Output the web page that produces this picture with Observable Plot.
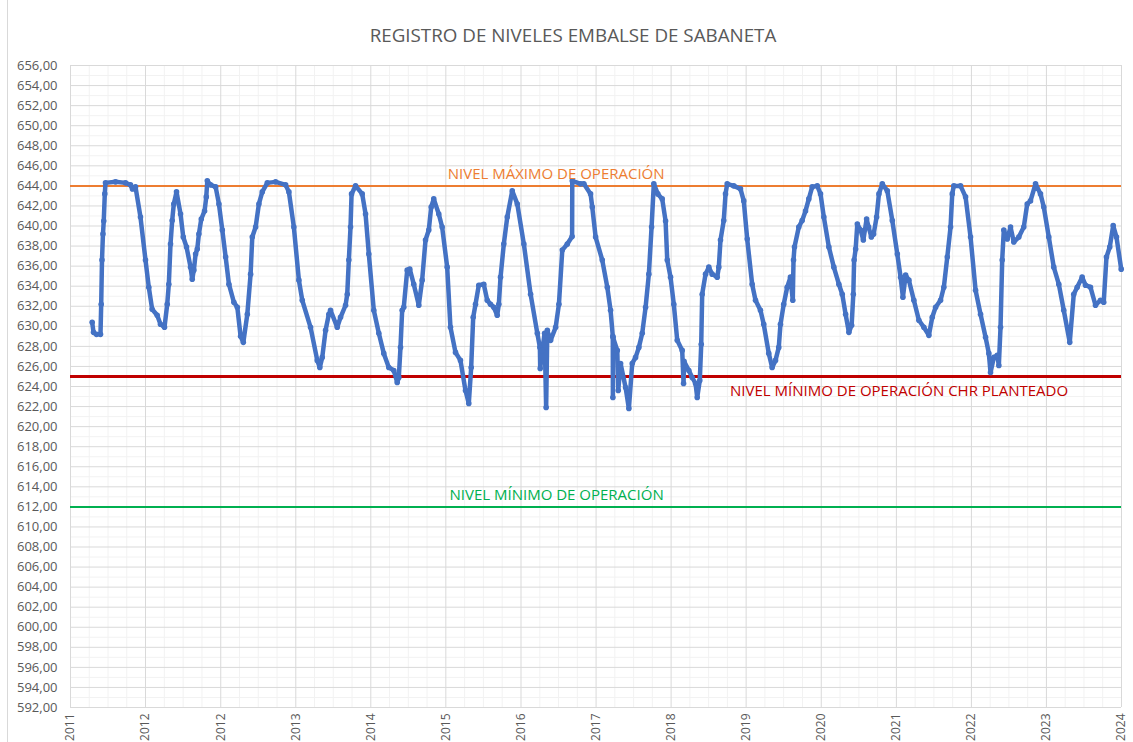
<!DOCTYPE html>
<html>
<head>
<meta charset="utf-8">
<script src="https://cdn.jsdelivr.net/npm/d3@7"></script>
<script src="https://cdn.jsdelivr.net/npm/@observablehq/plot@0.6"></script>
<style>
  body { margin: 0; background: #fff; }
  #chart { position: relative; width: 1133px; height: 742px; overflow: hidden; font-family: "Open Sans", sans-serif; background: #fff; }
  #title { height: 26px; padding-top: 24px; padding-left: 13px; line-height: 22px; text-align: center; font-size: 18.8px; color: #595959; }
  #border { position: absolute; left: 7px; top: 0; bottom: 0; width: 1px; background: #D9D9D9; }
</style>
</head>
<body>
<div id="chart">
  <div id="border"></div>
  <div id="title">REGISTRO DE NIVELES EMBALSE DE SABANETA</div>
</div>
<script>
// ---- Data ----
// time as decimal years
const dates = [
  2011.371, 2011.388, 2011.425, 2011.475, 2011.484, 2011.494, 2011.506, 2011.516, 2011.529, 2011.538,
  2011.663, 2011.788, 2011.850, 2011.875, 2011.913, 2011.975, 2012.038, 2012.079, 2012.121, 2012.184,
  2012.225, 2012.275, 2012.309, 2012.329, 2012.350, 2012.371, 2012.391, 2012.425, 2012.475, 2012.509,
  2012.550, 2012.600, 2012.621, 2012.641, 2012.663, 2012.684, 2012.704, 2012.734, 2012.775, 2012.796,
  2012.809, 2012.850, 2012.913, 2012.954, 2012.996, 2013.038, 2013.079, 2013.141, 2013.184, 2013.225,
  2013.259, 2013.309, 2013.350, 2013.371, 2013.413, 2013.454, 2013.496, 2013.559, 2013.663, 2013.788,
  2013.829, 2013.891, 2013.954, 2013.996, 2014.100, 2014.184, 2014.216, 2014.246, 2014.288, 2014.329,
  2014.350, 2014.434, 2014.475, 2014.538, 2014.559, 2014.579, 2014.600, 2014.613, 2014.663, 2014.746,
  2014.788, 2014.829, 2014.891, 2014.954, 2015.016, 2015.079, 2015.141, 2015.184, 2015.204, 2015.225,
  2015.246, 2015.266, 2015.309, 2015.341, 2015.391, 2015.454, 2015.496, 2015.538, 2015.579, 2015.609,
  2015.641, 2015.704, 2015.746, 2015.809, 2015.850, 2015.913, 2015.975, 2016.038, 2016.079, 2016.109,
  2016.134, 2016.163, 2016.204, 2016.266, 2016.309, 2016.350, 2016.391, 2016.434, 2016.454, 2016.475,
  2016.516, 2016.559, 2016.621, 2016.684, 2016.766, 2016.850, 2016.934, 2016.966, 2016.970, 2016.996,
  2017.025, 2017.044, 2017.059, 2017.100, 2017.163, 2017.204, 2017.246, 2017.309, 2017.369, 2017.371,
  2017.475, 2017.516, 2017.600, 2017.621, 2017.663, 2017.746, 2017.809, 2017.850, 2017.878, 2017.879,
  2017.881, 2017.934, 2017.946, 2017.975, 2018.038, 2018.079, 2018.121, 2018.163, 2018.204, 2018.246,
  2018.288, 2018.329, 2018.363, 2018.391, 2018.441, 2018.496, 2018.538, 2018.559, 2018.600, 2018.641,
  2018.684, 2018.746, 2018.763, 2018.769, 2018.829, 2018.871, 2018.913, 2018.934, 2018.966, 2018.984,
  2018.996, 2019.038, 2019.079, 2019.121, 2019.184, 2019.204, 2019.225, 2019.266, 2019.288, 2019.309,
  2019.391, 2019.475, 2019.516, 2019.559, 2019.621, 2019.663, 2019.725, 2019.766, 2019.829, 2019.871,
  2019.913, 2019.954, 2019.975, 2020.016, 2020.059, 2020.100, 2020.129, 2020.138, 2020.150, 2020.204,
  2020.246, 2020.288, 2020.329, 2020.371, 2020.434, 2020.475, 2020.516, 2020.579, 2020.641, 2020.704,
  2020.746, 2020.788, 2020.829, 2020.863, 2020.884, 2020.894, 2020.913, 2020.934, 2020.975, 2021.009,
  2021.050, 2021.075, 2021.109, 2021.138, 2021.175, 2021.204, 2021.246, 2021.309, 2021.371, 2021.434,
  2021.475, 2021.504, 2021.538, 2021.579, 2021.641, 2021.704, 2021.766, 2021.829, 2021.871, 2021.913,
  2021.975, 2022.016, 2022.059, 2022.100, 2022.121, 2022.141, 2022.225, 2022.288, 2022.350, 2022.413,
  2022.475, 2022.538, 2022.579, 2022.600, 2022.641, 2022.684, 2022.704, 2022.725, 2022.746, 2022.766,
  2022.809, 2022.850, 2022.891, 2022.954, 2023.016, 2023.059, 2023.100, 2023.163, 2023.225, 2023.266,
  2023.329, 2023.391, 2023.454, 2023.516, 2023.591, 2023.641, 2023.684, 2023.746, 2023.788, 2023.850,
  2023.913, 2023.975, 2024.016, 2024.050, 2024.091, 2024.134, 2024.175, 2024.234
];
// reservoir level (m.s.n.m.)
const levels = [
  630.4, 629.4, 629.2, 629.2, 632.2, 636.6, 639.2, 640.5, 643.2, 644.3,
  644.4, 644.3, 644.1, 643.7, 643.9, 640.9, 636.6, 633.9, 631.7, 631.1,
  630.2, 629.9, 632.2, 634.2, 638.2, 640.55, 642.2, 643.4, 641.2, 638.9,
  637.9, 635.9, 634.7, 635.6, 637.2, 637.7, 639.2, 640.7, 641.5, 642.9,
  644.5, 644.1, 643.9, 642.2, 639.6, 636.9, 634.2, 632.4, 631.9, 629.0,
  628.4, 631.2, 635.2, 638.9, 639.9, 642.2, 643.4, 644.3, 644.4, 644.1,
  643.4, 639.9, 634.6, 632.6, 629.9, 626.6, 625.9, 626.9, 629.6, 631.2,
  631.6, 629.9, 630.9, 632.1, 633.2, 636.6, 639.9, 643.2, 644.0, 643.2,
  641.2, 637.2, 631.6, 629.3, 627.3, 625.9, 625.6, 624.4, 624.9, 627.9,
  631.6, 631.9, 635.6, 635.7, 634.2, 632.1, 634.6, 638.6, 639.6, 641.9,
  642.7, 641.2, 639.9, 635.9, 629.9, 627.4, 626.6, 623.6, 622.3, 625.9,
  630.9, 632.2, 634.1, 634.2, 632.6, 632.2, 631.9, 631.1, 632.2, 634.9,
  638.2, 640.9, 643.5, 642.2, 638.2, 633.2, 629.3, 627.9, 625.8, 627.6,
  629.3, 621.9, 629.6, 628.6, 629.9, 632.2, 637.6, 638.2, 638.95, 644.5,
  644.2, 644.2, 643.2, 641.9, 638.9, 636.6, 633.9, 631.6, 629.0, 622.9,
  628.9, 627.6, 623.6, 626.3, 623.9, 621.8, 626.3, 626.9, 627.9, 629.3,
  631.9, 635.2, 639.9, 644.2, 643.2, 642.7, 640.5, 636.6, 634.9, 632.2,
  628.6, 627.6, 624.3, 626.5, 625.6, 624.9, 624.3, 622.9, 624.6, 628.2,
  633.2, 635.2, 635.9, 635.2, 634.9, 635.9, 638.6, 640.55, 643.2, 644.2,
  644.0, 643.7, 642.5, 638.7, 634.2, 632.6, 631.6, 630.2, 627.3, 625.9,
  626.6, 627.9, 630.2, 632.2, 633.9, 634.9, 632.6, 636.6, 637.9, 639.9,
  640.55, 641.5, 642.7, 643.9, 644.0, 643.2, 640.9, 637.9, 635.9, 634.2,
  633.2, 631.2, 629.4, 630.1, 633.2, 636.6, 637.7, 640.2, 639.6, 638.6,
  640.7, 639.9, 638.9, 639.2, 640.9, 643.2, 644.2, 643.5, 640.55, 637.2,
  634.9, 632.9, 635.1, 634.6, 632.6, 630.6, 629.9, 629.1, 630.9, 631.9,
  632.6, 633.9, 636.9, 639.9, 643.2, 644.0, 644.0, 642.9, 638.9, 633.6,
  631.2, 628.9, 627.3, 625.4, 626.9, 627.1, 626.1, 629.9, 636.6, 639.6,
  638.7, 639.9, 638.4, 638.9, 639.9, 642.2, 642.5, 644.2, 643.2, 641.9,
  638.9, 635.9, 634.2, 631.6, 628.4, 633.2, 633.9, 634.9, 634.1, 633.9,
  632.1, 632.6, 632.4, 636.9, 637.9, 640.05, 638.9, 635.7
];
// reference levels
const refNames  = ["NIVEL MÁXIMO DE OPERACIÓN", "NIVEL MÍNIMO DE OPERACIÓN CHR PLANTEADO", "NIVEL MÍNIMO DE OPERACIÓN"];
const refValues = [644, 625, 612];
const refColors = ["#ED7D31", "#C00000", "#00B050"];
const refLabelAt = [2017.169, 2021.456, 2017.175];   // where each label sits along the time axis
const refLabelDy = [-12, 15, -12];
// axes
const xAxisStart = 2011.1;      // first date-axis tick (decimal year)
const xAxisStep = 0.9384;       // spacing between date-axis ticks (years)
const xTickLabels = ["2011","2012","2012","2013","2014","2015","2016","2017","2018","2019","2020","2021","2022","2023","2024"];
const yMin = 592, yMax = 656, yStep = 2;

// ---- helpers ----
function toDate(y) {
  const Y = Math.floor(y);
  const a = Date.UTC(Y, 0, 1), b = Date.UTC(Y + 1, 0, 1);
  return new Date(a + (y - Y) * (b - a));
}
const series = dates.map((d, i) => ({date: toDate(d), level: levels[i]}));
const majorX = xTickLabels.map((_, i) => toDate(xAxisStart + i * xAxisStep));
const labelByTime = new Map(majorX.map((d, i) => [+d, xTickLabels[i]]));
const minorX = [];
for (let i = 0; i < xTickLabels.length - 1; i++) for (let k = 1; k < 4; k++) minorX.push(toDate(xAxisStart + (i + k / 4) * xAxisStep));
const majorY = d3.range(yMin, yMax + 0.001, yStep);
const minorY = d3.range(yMin + yStep / 2, yMax, yStep);
const refs = refNames.map((n, i) => ({name: n, value: refValues[i], color: refColors[i], at: toDate(refLabelAt[i]), dy: refLabelDy[i]}));

const chart = Plot.plot({
  width: 1133,
  height: 692,
  marginTop: 15,
  marginBottom: 35,
  marginLeft: 70,
  marginRight: 12,
  style: {fontFamily: "'Open Sans', sans-serif", color: "#595959", background: "transparent", overflow: "visible"},
  x: {type: "utc", domain: [majorX[0], majorX[majorX.length - 1]]},
  y: {domain: [yMin, yMax]},
  marks: [
    Plot.ruleY(minorY, {stroke: "#F2F2F2", strokeWidth: 1}),
    Plot.ruleX(minorX, {stroke: "#F2F2F2", strokeWidth: 1}),
    Plot.ruleY(majorY, {stroke: "#D9D9D9", strokeWidth: 1}),
    Plot.ruleX(majorX, {stroke: "#D9D9D9", strokeWidth: 1}),
    Plot.axisY({ticks: majorY, tickSize: 0, tickPadding: 13, fontSize: 13, label: null,
      tickFormat: d => d.toFixed(2).replace(".", ",")}),
    Plot.axisX({ticks: majorX, tickSize: 0, tickPadding: 6, fontSize: 12, label: null, tickRotate: -90,
      tickFormat: d => labelByTime.get(+d)}),
    Plot.ruleY(refs, {y: "value", stroke: "color", strokeWidth: d => d.value === 625 ? 3 : 2}),
    Plot.line(series, {x: "date", y: "level", stroke: "#4472C4", strokeWidth: 4.5}),
    Plot.dot(series, {x: "date", y: "level", r: 2.8, fill: "#4472C4", stroke: null}),
    Plot.text(refs.filter(d => d.dy < 0), {x: "at", y: "value", text: "name", fill: "color", fontSize: 15, dy: -12}),
    Plot.text(refs.filter(d => d.dy > 0), {x: "at", y: "value", text: "name", fill: "color", fontSize: 15, dy: 15})
  ]
});
document.getElementById("chart").appendChild(chart);
</script>
</body>
</html>
